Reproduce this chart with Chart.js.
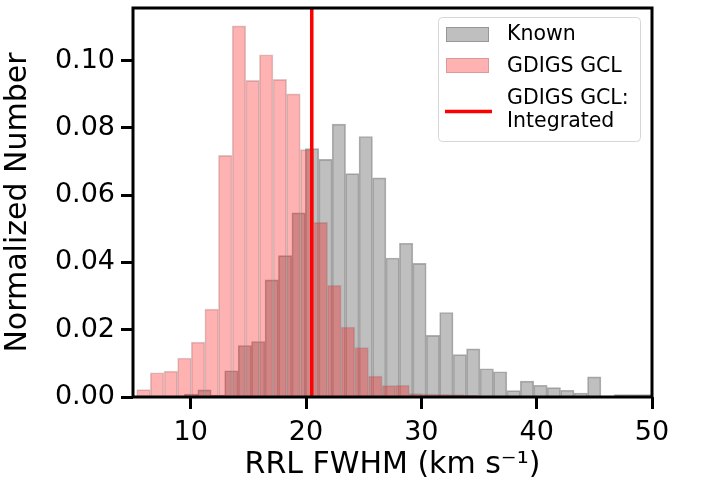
<!DOCTYPE html>
<html>
<head>
<meta charset="utf-8">
<script src="https://cdn.jsdelivr.net/npm/chart.js@4"></script>
<style>
  html, body { margin: 0; padding: 0; background: #fff; }
  #wrap { width: 702px; height: 483px; }
</style>
</head>
<body>
<div id="wrap"><canvas id="fwhmChart" width="702" height="483"></canvas></div>
<script>
// ==== Histogram data (bin centres in km/s, normalized counts) ====
const knownCenters = [10.04, 11.20, 12.37, 13.53, 14.70, 15.86, 17.03, 18.19, 19.36, 20.52,
  21.69, 22.85, 24.02, 25.18, 26.35, 27.51, 28.68, 29.84, 31.01, 32.17,
  33.34, 34.50, 35.67, 36.83, 38.00, 39.16, 40.33, 41.49, 42.66, 43.82,
  44.99, 46.15, 47.32, 48.48, 49.65];
const knownValues = [0.0009, 0.0021, 0.0006, 0.0078, 0.0153, 0.0165, 0.0348, 0.0420, 0.0547, 0.0738,
  0.0706, 0.0811, 0.0664, 0.0774, 0.0651, 0.0413, 0.0457, 0.0397, 0.0183, 0.0251,
  0.0126, 0.0143, 0.0084, 0.0075, 0.0019, 0.0047, 0.0035, 0.0028, 0.0020, 0.0012,
  0.0060, 0, 0.0007, 0.0007, 0.0007];

const gclCenters = [5.91, 7.09, 8.28, 9.46, 10.64, 11.82, 13.00, 14.19, 15.37, 16.55,
  17.73, 18.91, 20.10, 21.28, 22.46, 23.64, 24.82, 26.01, 27.19, 28.37,
  29.55, 30.73, 31.92, 33.10, 34.28, 35.46, 36.64, 37.83, 39.01, 40.19,
  41.37, 42.55, 43.74, 44.92, 46.10, 47.28];
const gclValues = [0.0022, 0.0072, 0.0077, 0.0116, 0.0163, 0.0261, 0.0718, 0.1103, 0.0941, 0.1017,
  0.0944, 0.0901, 0.0735, 0.0519, 0.0332, 0.0208, 0.0147, 0.0062, 0.0034, 0.0035,
  0.0010, 0.0009, 0.0008, 0.0007, 0.0005, 0, 0, 0, 0, 0,
  0, 0, 0, 0, 0, 0.0002];

const integratedFwhm = 20.5;

const xTicks = [10, 20, 30, 40, 50];
const yTicks = [0.00, 0.02, 0.04, 0.06, 0.08, 0.10];
const xMin = 5, xMax = 50;
const yMin = 0, yMax = 0.1156;

const FONT = "'DejaVu Sans', sans-serif";

// ==== Plot frame + matplotlib-style legend inside the axes ====
const framePlugin = {
  id: 'frame',
  afterDatasetsDraw(chart) {
    const { ctx, chartArea: a } = chart;
    ctx.save();
    ctx.strokeStyle = '#000';
    ctx.lineWidth = 3;
    ctx.strokeRect(a.left, a.top, a.right - a.left, a.bottom - a.top);
    ctx.restore();
  }
};

const legendPlugin = {
  id: 'innerLegend',
  afterDraw(chart) {
    const ctx = chart.ctx;
    const ds = chart.data.datasets;
    const box = { x: 438.5, y: 17.5, w: 202, h: 124, r: 4 };
    ctx.save();
    ctx.beginPath();
    ctx.roundRect(box.x, box.y, box.w, box.h, box.r);
    ctx.fillStyle = 'rgba(255,255,255,0.8)';
    ctx.fill();
    ctx.strokeStyle = '#d6d6d6';
    ctx.lineWidth = 1;
    ctx.stroke();

    ctx.font = '20.5px ' + FONT;
    ctx.textBaseline = 'middle';
    ctx.textAlign = 'left';

    // Known
    ctx.fillStyle = ds[0].backgroundColor;
    ctx.fillRect(446, 27, 43, 15);
    ctx.strokeStyle = ds[0].borderColor;
    ctx.strokeRect(446.5, 27.5, 42, 14);
    ctx.fillStyle = '#000';
    ctx.fillText(ds[0].label, 507, 35);

    // GDIGS GCL
    ctx.fillStyle = ds[1].backgroundColor;
    ctx.fillRect(446, 58, 43, 15);
    ctx.strokeStyle = ds[1].borderColor;
    ctx.strokeRect(446.5, 58.5, 42, 14);
    ctx.fillStyle = '#000';
    ctx.fillText(ds[1].label, 507, 67);

    // Integrated line
    ctx.strokeStyle = ds[2].borderColor;
    ctx.lineWidth = 3.5;
    ctx.beginPath();
    ctx.moveTo(445, 111.5);
    ctx.lineTo(492, 111.5);
    ctx.stroke();
    const lines = ds[2].label.split('\n');
    ctx.fillStyle = '#000';
    ctx.fillText(lines[0], 507, 99);
    ctx.fillText(lines[1], 507, 122);
    ctx.restore();
  }
};

const ctx = document.getElementById('fwhmChart');
new Chart(ctx, {
  type: 'bar',
  data: {
    datasets: [
      {
        label: 'Known',
        data: knownCenters.map((x, i) => ({ x: x, y: knownValues[i] })),
        xAxisID: 'x',
        backgroundColor: 'rgba(128,128,128,0.5)',
        borderColor: 'rgba(128,128,128,0.62)',
        borderWidth: 1,
        borderSkipped: 'start',
        barPercentage: 1,
        categoryPercentage: 1,
        grouped: false,
        order: 3
      },
      {
        label: 'GDIGS GCL',
        data: gclCenters.map((x, i) => ({ x: x, y: gclValues[i] })),
        xAxisID: 'xr',
        backgroundColor: 'rgba(255,0,0,0.3)',
        borderColor: 'rgba(150,110,110,0.35)',
        borderWidth: 1,
        borderSkipped: 'start',
        barPercentage: 1,
        categoryPercentage: 1,
        grouped: false,
        order: 2
      },
      {
        type: 'line',
        label: 'GDIGS GCL:\nIntegrated',
        data: [{ x: integratedFwhm, y: yMin }, { x: integratedFwhm, y: yMax }],
        xAxisID: 'x',
        borderColor: '#ff0000',
        borderWidth: 3.5,
        pointRadius: 0,
        order: 1
      }
    ]
  },
  options: {
    responsive: false,
    animation: false,
    layout: { padding: { top: 8, right: 50, left: 0, bottom: 0 } },
    plugins: {
      legend: { display: false },
      tooltip: { enabled: false }
    },
    scales: {
      x: {
        type: 'linear',
        min: xMin,
        max: xMax,
        offset: false,
        afterFit: s => { s.height = 86; s.paddingLeft = 0; s.paddingRight = 0; },
        afterBuildTicks: s => { s.ticks = xTicks.map(v => ({ value: v })); },
        border: { display: false },
        grid: { display: true, offset: false, drawOnChartArea: false, drawTicks: true,
          tickLength: 12, tickWidth: 3, tickColor: '#000' },
        ticks: { color: '#000', padding: 8, maxRotation: 0,
          font: { family: FONT, size: 27 }, callback: v => String(v) },
        title: { display: true, text: 'RRL FWHM (km s\u207B\u00B9)', color: '#000',
          font: { family: FONT, size: 30 }, padding: { top: 0, bottom: 0 } }
      },
      xr: {
        type: 'linear',
        min: xMin,
        max: xMax,
        offset: false,
        display: false
      },
      y: {
        min: yMin,
        max: yMax,
        afterFit: s => { s.width = 133; s.paddingTop = 0; s.paddingBottom = 0; },
        afterBuildTicks: s => { s.ticks = yTicks.map(v => ({ value: v })); },
        border: { display: false },
        grid: { display: true, drawOnChartArea: false, drawTicks: true,
          tickLength: 12, tickWidth: 3, tickColor: '#000' },
        ticks: { color: '#000', padding: 6,
          font: { family: FONT, size: 27 }, callback: v => v.toFixed(2) },
        title: { display: true, text: 'Normalized Number', color: '#000',
          font: { family: FONT, size: 30 }, padding: { top: 0, bottom: 8 } }
      }
    }
  },
  plugins: [framePlugin, legendPlugin]
});
</script>
</body>
</html>
